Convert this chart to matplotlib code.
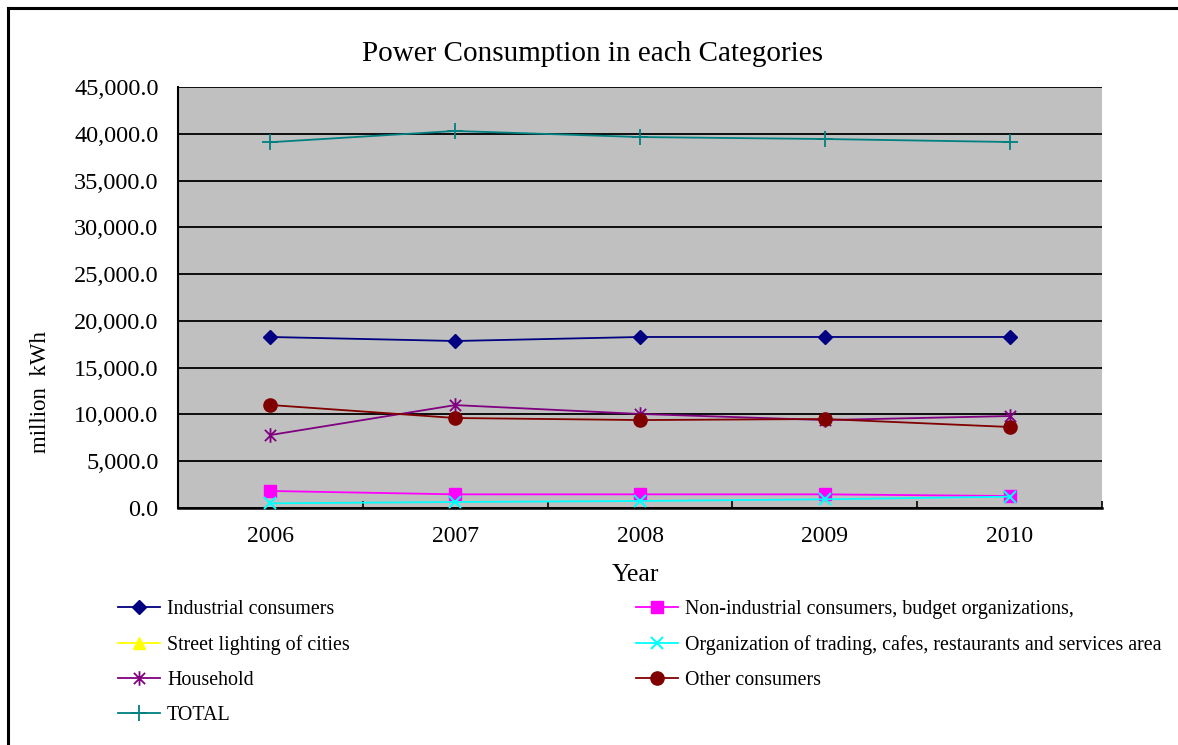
import numpy as np
import matplotlib
matplotlib.use("Agg")
import matplotlib.pyplot as plt
from matplotlib.path import Path
from matplotlib.ticker import FuncFormatter, FixedLocator, NullFormatter
from matplotlib.lines import Line2D

plt.rcParams['font.family'] = ['Liberation Serif', 'DejaVu Serif']

years = ['2006', '2007', '2008', '2009', '2010']
industrial = [18280, 17850, 18280, 18280, 18280]
non_industrial = [1820, 1460, 1460, 1460, 1280]
street_lighting = [np.nan, np.nan, np.nan, np.nan, np.nan]
trading_services = [500, 640, 750, 930, 1210]
household = [7800, 11000, 10050, 9400, 9830]
other = [11010, 9620, 9400, 9510, 8660]
total = [39100, 40300, 39650, 39440, 39120]

W, H = 1178, 745
fig = plt.figure(figsize=(W / 100, H / 100), dpi=100)
fig.patch.set_facecolor('white')

# chart frame (left and top edges)
fig.add_artist(Line2D([7.5 / W, 7.5 / W], [0, 1 - 8 / H], transform=fig.transFigure,
                      color='black', lw=2.2))
fig.add_artist(Line2D([7.5 / W, 1], [1 - 8 / H, 1 - 8 / H], transform=fig.transFigure,
                      color='black', lw=2.2))

L, R, B, T = 178, 1102, 508, 87
ax = fig.add_axes([L / W, 1 - B / H, (R - L) / W, (B - T) / H])
ax.set_facecolor('#C0C0C0')

x = np.arange(len(years))

# asterisk marker: an x with a vertical stroke
star_path = Path(
    [(-1, -1), (1, 1), (-1, 1), (1, -1), (0, -1.3), (0, 1.3)],
    [Path.MOVETO, Path.LINETO, Path.MOVETO, Path.LINETO, Path.MOVETO, Path.LINETO])

series = [
    ('Industrial consumers', industrial, '#000080', 'D', 7, {}),
    ('Non-industrial consumers, budget organizations,', non_industrial, '#FF00FF', 's', 9, {}),
    ('Street lighting of cities', street_lighting, '#FFFF00', '^', 9, {}),
    ('Organization of trading, cafes, restaurants and services area', trading_services,
     '#00FFFF', 'x', 9, {'markeredgewidth': 1.5}),
    ('Household', household, '#800080', star_path, 10.5, {'markeredgewidth': 1.3}),
    ('Other consumers', other, '#800000', 'o', 9.5, {}),
    ('TOTAL', total, '#008080', '+', 11, {'markeredgewidth': 1.3}),
]

handles = {}
for name, vals, color, marker, ms, extra in series:
    h, = ax.plot(x, vals, color=color, lw=1.3, marker=marker, markersize=ms,
                 markerfacecolor=color, markeredgecolor=color, label=name,
                 clip_on=False, zorder=3, **extra)
    handles[name] = h

ax.set_xlim(-0.5, len(years) - 0.5)
ax.set_ylim(0, 45000)
ax.yaxis.set_major_locator(FixedLocator(np.arange(0, 45001, 5000)))
ax.yaxis.set_major_formatter(FuncFormatter(lambda v, p: f'{v:,.1f}'))
ax.grid(axis='y', color='black', lw=1.3, zorder=1)
ax.set_axisbelow(True)

# category labels at centres, tick marks at category boundaries
ax.xaxis.set_major_locator(FixedLocator(np.arange(-0.5, len(years), 1.0)))
ax.xaxis.set_major_formatter(NullFormatter())
ax.xaxis.set_minor_locator(FixedLocator(x))
ax.set_xticklabels(years, minor=True)
ax.tick_params(axis='x', which='major', direction='in', length=5, width=1.2, color='black')
ax.tick_params(axis='x', which='minor', length=0, pad=13, labelsize=17)
ax.tick_params(axis='y', length=0, pad=14, labelsize=17.5)

for s in ['top', 'right']:
    ax.spines[s].set_visible(False)
ax.spines['left'].set_linewidth(1.5)
ax.spines['bottom'].set_linewidth(1.8)

ax.set_title('Power Consumption in each Categories', fontsize=21, pad=19, x=0.449)
ax.set_xlabel('Year', fontsize=18.5)
ax.xaxis.set_label_coords(0.4946, -0.133)
ax.set_ylabel('million  kWh', fontsize=16.5)
ax.yaxis.set_label_coords(-0.137, 0.2755)

col1 = ['Industrial consumers', 'Street lighting of cities', 'Household', 'TOTAL']
col2 = ['Non-industrial consumers, budget organizations,',
        'Organization of trading, cafes, restaurants and services area', 'Other consumers']

leg_kw = dict(frameon=False, fontsize=14.4, handlelength=2.1, handletextpad=0.35,
              labelspacing=0.8, borderaxespad=0, borderpad=0, loc='upper left')
leg1 = fig.legend([handles[n] for n in col1], col1,
                  bbox_to_anchor=(118 / W, 1 - 600 / H), **leg_kw)
leg2 = fig.legend([handles[n] for n in col2], col2,
                  bbox_to_anchor=(636 / W, 1 - 600 / H), **leg_kw)

fig.savefig('out.png', dpi=100)
